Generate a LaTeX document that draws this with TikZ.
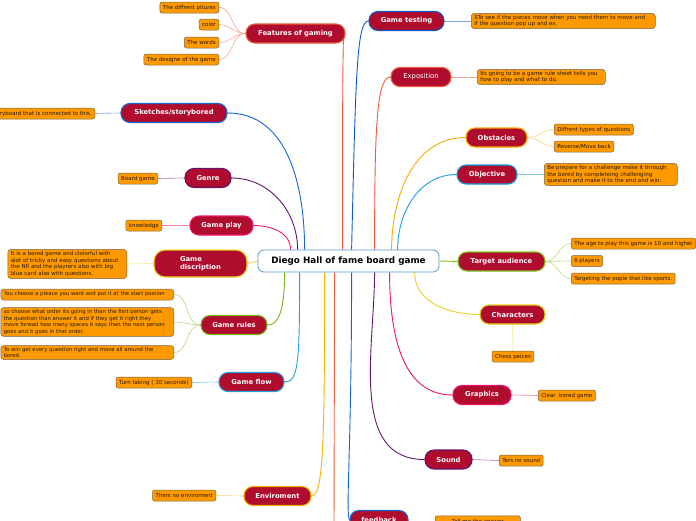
\documentclass[tikz,border=0pt]{standalone}
\usepackage{fontspec}
\setmainfont{DejaVu Sans}
\usetikzlibrary{backgrounds}
\definecolor{mainred}{RGB}{176,12,45}
\definecolor{leafor}{RGB}{255,153,0}
\definecolor{leafbd}{RGB}{120,100,70}
\definecolor{leaftx}{RGB}{40,25,0}
\definecolor{cCenter}{RGB}{90,150,210}
\definecolor{cFeat}{RGB}{238,90,60}
\definecolor{cSk}{RGB}{20,100,210}
\definecolor{cGenre}{RGB}{100,20,110}
\definecolor{cPlay}{RGB}{235,25,105}
\definecolor{cDisc}{RGB}{240,215,40}
\definecolor{cRules}{RGB}{120,180,30}
\definecolor{cFlow}{RGB}{30,160,225}
\definecolor{cEnv}{RGB}{245,180,0}
\definecolor{cTest}{RGB}{10,90,205}
\definecolor{cExpo}{RGB}{238,90,60}
\definecolor{cObs}{RGB}{245,170,0}
\definecolor{cObj}{RGB}{20,160,225}
\definecolor{cTA}{RGB}{130,190,30}
\definecolor{cChar}{RGB}{230,210,30}
\definecolor{cGraph}{RGB}{235,20,100}
\definecolor{cSound}{RGB}{100,20,110}
\definecolor{cFb}{RGB}{20,100,210}
\tikzset{
 mainnode/.style={draw=#1, line width=1.1pt, fill=mainred, rounded corners=9pt, text=white,
   font=\bfseries\fontsize{6.8}{8.2}\selectfont, minimum height=19pt, inner sep=1pt, align=center},
 leafnode/.style={draw=leafbd, line width=0.5pt, fill=leafor, rounded corners=2pt, text=leaftx,
   font=\fontsize{5.5}{6.9}\selectfont, minimum height=11pt, inner xsep=3pt, inner ysep=1.5pt, align=left},
 ruleleaf/.style={leafnode, font=\fontsize{5.3}{6.9}\selectfont, text width=167pt, rounded corners=3pt},
 branch/.style={draw=#1, line width=0.9pt},
 twig/.style={draw=#1!55, line width=0.6pt},
}
\begin{document}
\begin{tikzpicture}[x=1pt,y=-1pt]
\useasboundingbox (0,0) rectangle (696,520);
\clip (0,0) rectangle (696,520);

% center
\node[draw=cCenter, line width=0.8pt, fill=white, rounded corners=6pt, minimum width=181pt, minimum height=22pt,
  font=\bfseries\fontsize{8.8}{10}\selectfont] (c) at (348.5,261) {Diego Hall of fame board game};

% main nodes left
\node[mainnode=cFeat, minimum width=99pt] (feat) at (295.5,33.5) {Features of gaming};
\node[mainnode=cSk, minimum width=106pt] (sk) at (174,113) {Sketches/storybored};
\node[mainnode=cGenre, minimum width=46pt] (genre) at (208,178) {Genre};
\node[mainnode=cPlay, minimum width=63pt] (play) at (221.5,225.5) {Game play};
\node[mainnode=cDisc, minimum width=93pt, minimum height=27pt, rounded corners=11pt, align=left] (disc) at (200.5,263.5) {Game\\discription};
\node[mainnode=cRules, minimum width=66pt] (rules) at (234,325) {Game rules};
\node[mainnode=cFlow, minimum width=65pt] (flow) at (251.5,382) {Game flow};
\node[mainnode=cEnv, minimum width=67pt] (env) at (277.5,496) {Enviroment};
% main nodes right
\node[mainnode=cTest, minimum width=75pt] (test) at (406.5,21) {Game testing};
\node[mainnode=cExpo, minimum width=60pt, font=\fontsize{6.8}{8.2}\selectfont] (expo) at (421,77) {Exposition};
\node[mainnode=cObs, minimum width=61pt] (obs) at (496.5,137.5) {Obstacles};
\node[mainnode=cObj, minimum width=60pt] (obj) at (487,174.5) {Objective};
\node[mainnode=cTA, minimum width=87pt] (ta) at (501.5,261.5) {Target audience};
\node[mainnode=cChar, minimum width=65pt] (char) at (512.5,314.5) {Characters};
\node[mainnode=cGraph, minimum width=58pt] (graph) at (482,395) {Graphics};
\node[mainnode=cSound, minimum width=47pt] (sound) at (448.5,459.5) {Sound};
\node[mainnode=cFb, minimum width=58pt] (fb) at (379,520) {feedback};
\coordinate (bot) at (334,530);

% leaves left
\node[leafnode, anchor=east] (f1) at (219,7.5) {The diffrent pitures};
\node[leafnode, anchor=east] (f2) at (219,24.5) {color};
\node[leafnode, anchor=east] (f3) at (219,42.5) {The words};
\node[leafnode, anchor=east] (f4) at (219,59.5) {The designe of the game};
\node[leafnode, anchor=east] (s1) at (95,113.5) {A storyboard that is connected to this.};
\node[leafnode, anchor=east] (g1) at (158,178.5) {Board game};
\node[leafnode, anchor=east] (p1) at (162,225.5) {knowledge};
\node[leafnode, anchor=east, rounded corners=3pt, text width=113pt] (d1) at (127,264) {It is a bored game and clolorful with\\alot of tricky and easy questions about\\the Nfl and the playrers also with big\\blue card also with questions.};
\node[ruleleaf, anchor=east] (r1) at (174,294.5) {You choose a pleace you want and put it at the start postion};
\node[ruleleaf, anchor=east] (r2) at (174,322) {so choose what order its going in than the fisrt person gets\\the question than answer it and if they get it right they\\move forwad how many spaces it says than the next person\\goes and it goes in that order.};
\node[ruleleaf, anchor=east] (r3) at (174,352.5) {To win get every question right and move all around the\\bored.};
\node[leafnode, anchor=east] (fl1) at (192,382.5) {Turn taking ( 30 seconds)};
\node[leafnode, anchor=east] (e1) at (216,495.5) {Thers no enviroment};
% leaves right
\node[leafnode, anchor=west, rounded corners=3pt, text width=178pt] (t1) at (471,21) {STo see if the pieces move when you need them to move and\\if the question pop up and ex.};
\node[leafnode, anchor=west, rounded corners=3pt, text width=122pt] (x1) at (477,77) {Its going to be a game rule sheet tells you\\how to play and what to do.};
\node[leafnode, anchor=west] (o1) at (554,129.5) {Diffrent types of questions};
\node[leafnode, anchor=west] (o2) at (554,146.5) {Reverse/Move back};
\node[leafnode, anchor=west, rounded corners=3pt, text width=127pt] (ob1) at (544,174.5) {Be prepare for a challenge make it through\\the bored by completeing challenging\\question and make it to the end and win.};
\node[leafnode, anchor=west] (a1) at (571,243.5) {The age to play this game is 10 and higher};
\node[leafnode, anchor=west] (a2) at (571,261) {6 players};
\node[leafnode, anchor=west] (a3) at (571,278.5) {Targeting the pople that like sports.};
\node[leafnode] (ch1) at (513,356.5) {Chess peices};
\node[leafnode, anchor=west] (gr1) at (538,395.5) {Clear\ \ bored game};
\node[leafnode, anchor=west] (so1) at (499,460.5) {Ters no sound};
\node[leafnode, anchor=north west, minimum width=85pt, inner ysep=3.6pt] (fb1) at (435,515.5) {Tell me the answer};

\begin{scope}[on background layer]
% branches left
\draw[branch=cFeat] ([xshift=85pt]c.north west) .. controls +(0,-150) and +(-1,40) .. ([xshift=-2pt]feat.east);
\draw[branch=cSk] ([xshift=47pt]c.north west) to[out=90,in=0] (sk.east);
\draw[branch=cGenre] ([xshift=40pt]c.north west) to[out=90,in=0] (genre.east);
\draw[branch=cPlay] ([xshift=33pt]c.north west) to[out=90,in=0] (play.east);
\draw[branch=cDisc] (c.west) -- (disc.east);
\draw[branch=cRules] ([xshift=27pt]c.south west) .. controls +(0,35) and +(12,0) .. (rules.east);
\draw[branch=cFlow] ([xshift=42pt]c.south west) .. controls +(0,90) and +(14,0) .. (flow.east);
\draw[branch=cEnv] ([xshift=67pt]c.south west) .. controls +(0,170) and +(12,0) .. (env.east);
\draw[branch=cFeat] ([xshift=77pt]c.south west) -- (bot);
% branches right
\draw[branch=cTest] ([xshift=94pt]c.north west) .. controls +(4,-170) and +(-12,0) .. (test.west);
\draw[branch=cExpo] ([xshift=117pt]c.north west) .. controls +(0,-120) and +(-14,0) .. (expo.west);
\draw[branch=cObs] ([xshift=134pt]c.north west) to[out=90,in=180] (obs.west);
\draw[branch=cObj] ([xshift=140pt]c.north west) to[out=90,in=180] (obj.west);
\draw[branch=cTA] (c.east) -- (ta.west);
\draw[branch=cChar] ([xshift=157pt]c.south west) to[out=-90,in=180] (char.west);
\draw[branch=cGraph] ([xshift=132pt]c.south west) to[out=-90,in=180] (graph.west);
\draw[branch=cSound] ([xshift=117pt]c.south west) to[out=-90,in=180] (sound.west);
\draw[branch=cFb] ([xshift=94pt]c.south west) .. controls +(0,180) and +(-4,-10) .. (fb.west);
% twigs
\foreach \l in {f1,f2,f3,f4} \draw[twig=cFeat] (feat.west) to[out=180,in=0] (\l.east);
\draw[twig=cSk] (sk.west) -- (s1.east);
\draw[twig=cGenre] (genre.west) -- (g1.east);
\draw[twig=cPlay] (play.west) -- (p1.east);
\draw[twig=cDisc] (disc.west) -- (d1.east);
\foreach \l in {r1,r2,r3} \draw[twig=cRules] (rules.west) to[out=180,in=0] (\l.east);
\draw[twig=cFlow] (flow.west) -- (fl1.east);
\draw[twig=cEnv] (env.west) -- (e1.east);
\draw[twig=cTest] (test.east) -- (t1.west);
\draw[twig=cExpo] (expo.east) -- (x1.west);
\foreach \l in {o1,o2} \draw[twig=cObs] (obs.east) to[out=0,in=180] (\l.west);
\draw[twig=cObj] (obj.east) -- (ob1.west);
\foreach \l in {a1,a2,a3} \draw[twig=cTA] (ta.east) to[out=0,in=180] (\l.west);
\draw[twig=cChar] (char.south) -- (ch1.north);
\draw[twig=cGraph] (graph.east) -- (gr1.west);
\draw[twig=cSound] (sound.east) -- (so1.west);
\end{scope}
\end{tikzpicture}
\end{document}
